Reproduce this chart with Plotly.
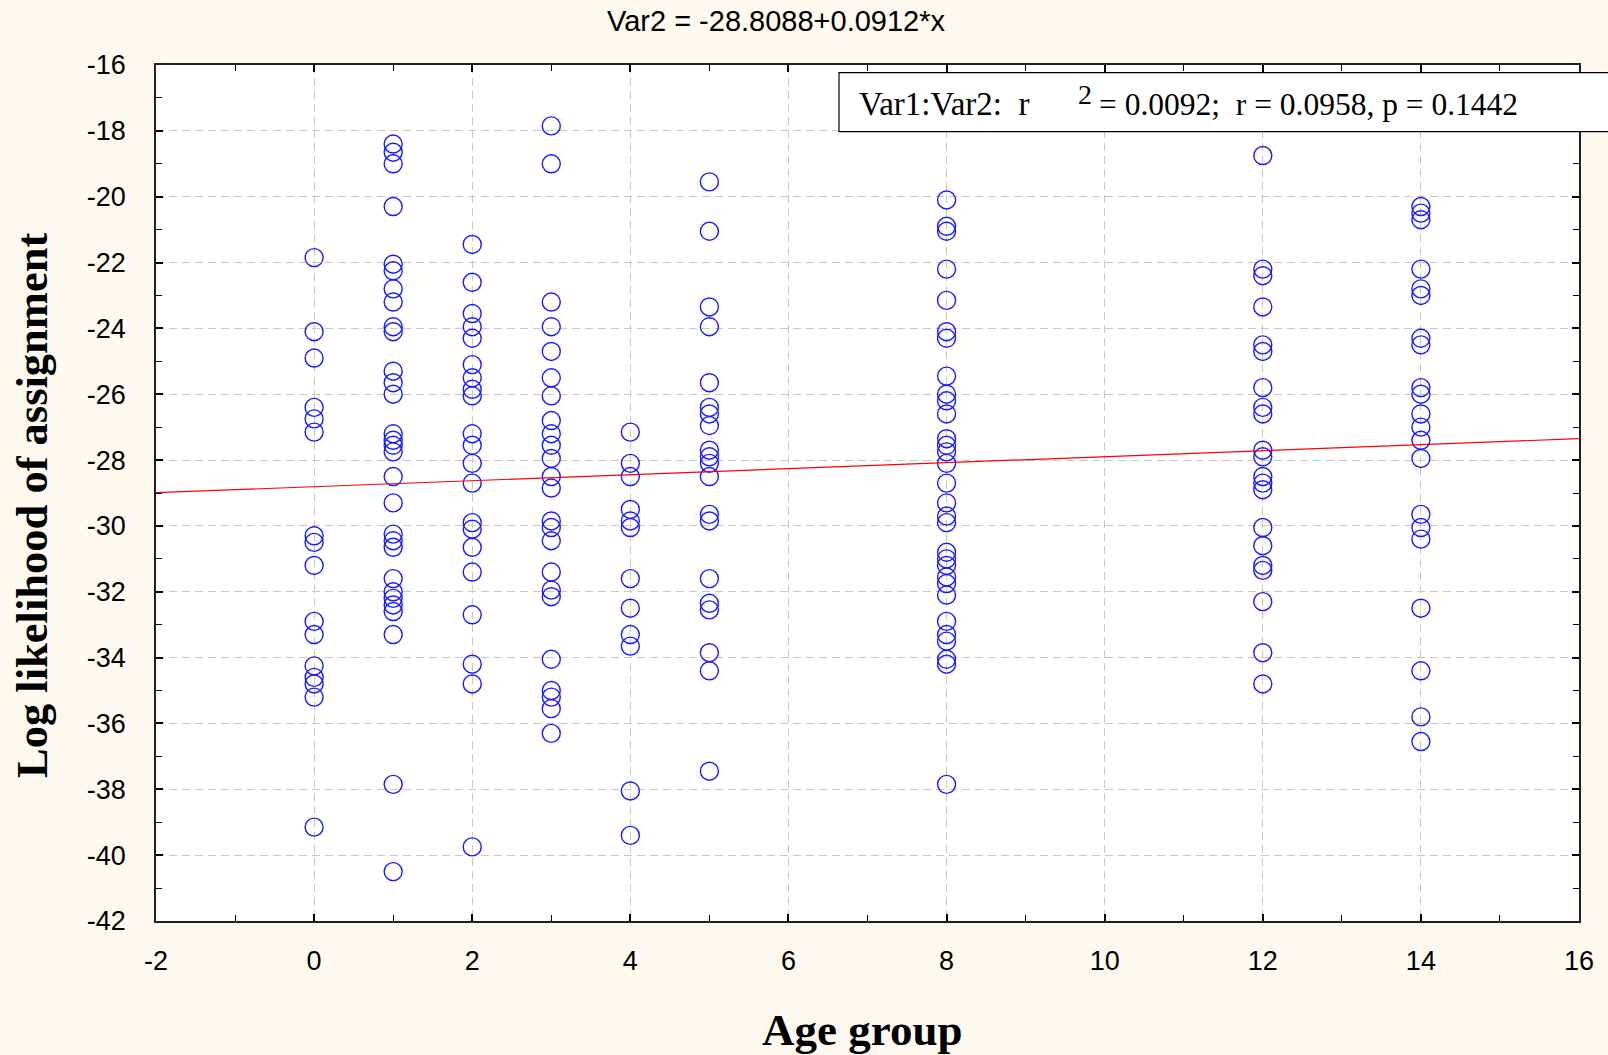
import numpy as np
import plotly.graph_objects as go

# ---- data ----
age_groups = [0, 1, 2, 3, 4, 5, 8, 12, 14]

ll_age0 = [-21.85, -24.1, -24.9, -26.4, -26.75, -27.15, -30.3, -30.5, -31.2, -32.9, -33.3,
           -34.25, -34.6, -34.8, -35.2, -39.15]
ll_age1 = [-18.4, -18.65, -19.0, -20.3, -22.05, -22.25, -22.8, -23.2, -23.95, -24.1, -25.3,
           -25.65, -26.0, -27.2, -27.4, -27.55, -27.75, -28.5, -29.3, -30.25, -30.45, -30.65,
           -31.6, -32.0, -32.2, -32.4, -32.6, -33.3, -37.85, -40.5]
ll_age2 = [-21.45, -22.6, -23.55, -23.95, -24.3, -25.1, -25.5, -25.85, -26.05, -27.2, -27.55,
           -28.1, -28.7, -29.9, -30.1, -30.65, -31.4, -32.7, -34.2, -34.8, -39.75]
ll_age3 = [-17.85, -19.0, -23.2, -23.95, -24.7, -25.5, -26.05, -26.8, -27.2, -27.55, -27.95,
           -28.5, -28.85, -29.85, -30.05, -30.45, -31.4, -31.95, -32.15, -34.05, -35.0, -35.2,
           -35.55, -36.3]
ll_age4 = [-27.15, -28.1, -28.5, -29.5, -29.85, -30.05, -31.6, -32.5, -33.3, -33.65, -38.05, -39.4]
ll_age5 = [-19.55, -21.05, -23.35, -23.95, -25.65, -26.4, -26.6, -26.95, -27.7, -27.9, -28.1,
           -28.5, -29.65, -29.85, -31.6, -32.35, -32.55, -33.85, -34.4, -37.45]
ll_age8 = [-20.1, -20.9, -21.05, -22.2, -23.15, -24.1, -24.3, -25.45, -26.0, -26.2, -26.6,
           -27.35, -27.55, -27.75, -28.1, -28.7, -29.3, -29.7, -29.9, -30.8, -31.0, -31.2,
           -31.55, -31.75, -32.1, -32.9, -33.3, -33.5, -34.05, -34.2, -37.85]
ll_age12 = [-18.75, -22.2, -22.4, -23.35, -24.5, -24.7, -25.8, -26.4, -26.6, -27.7, -27.9,
            -28.5, -28.7, -28.9, -30.05, -30.6, -31.2, -31.35, -32.3, -33.85, -34.8]
ll_age14 = [-20.3, -20.5, -20.7, -22.2, -22.8, -23.0, -24.3, -24.5, -25.8, -26.0, -26.6,
            -27.0, -27.4, -27.95, -29.65, -30.05, -30.4, -32.5, -34.4, -35.8, -36.55]

fit_intercept = -28.8088
fit_slope = 0.0912
x_range = [-2, 16]
y_range = [-42, -16]

x_tickvals = [-2, 0, 2, 4, 6, 8, 10, 12, 14, 16]
x_ticktext = ["-2", "0", "2", "4", "6", "8", "10", "12", "14", "16"]
y_tickvals = [-42, -40, -38, -36, -34, -32, -30, -28, -26, -24, -22, -20, -18, -16]
y_ticktext = ["-42", "-40", "-38", "-36", "-34", "-32", "-30", "-28", "-26", "-24",
              "-22", "-20", "-18", "-16"]

title_text = "Var2 = -28.8088+0.0912*x"
stats_left = "Var1:Var2:\u00a0\u00a0r"
stats_sup = "2"
stats_right = "= 0.0092;\u00a0\u00a0r = 0.0958, p = 0.1442"
x_title = "Age group"
y_title = "Log likelihood of assignment"

groups = [ll_age0, ll_age1, ll_age2, ll_age3, ll_age4, ll_age5, ll_age8, ll_age12, ll_age14]
xs = []
ys = []
for a, vals in zip(age_groups, groups):
    xs += [a] * len(vals)
    ys += vals

x_fit = np.array(x_range, dtype=float)
y_fit = fit_intercept + fit_slope * x_fit

# ---- figure ----
W, H = 1608, 1055
L, R, T, B = 156, 1579, 65, 921

fig = go.Figure()
fig.add_trace(go.Scatter(
    x=xs, y=ys, mode="markers",
    marker=dict(symbol="circle-open", size=18, color="#1a1aff", line=dict(width=1.4)),
    showlegend=False, cliponaxis=False))
fig.add_trace(go.Scatter(
    x=x_fit, y=y_fit, mode="lines",
    line=dict(color="#ff0000", width=1.2), showlegend=False))

def px2px(x):
    return (x - L) / (R - L)

def py2py(y):
    return (B - y) / (B - T)

axis_common = dict(
    showgrid=True, gridcolor="#c8c8c8", gridwidth=1, griddash="8px,5px",
    zeroline=False, showline=True, linecolor="#202020", linewidth=1.5,
    mirror="allticks", ticks="inside", ticklen=7, tickwidth=1.5, tickcolor="#000000",
    tickfont=dict(family="Liberation Sans, Arial", size=27, color="#000000"),
    minor=dict(dtick=1, ticks="inside", ticklen=6, tickwidth=1.2, tickcolor="#000000",
               showgrid=False),
)

fig.update_layout(
    width=W, height=H,
    margin=dict(l=L, r=W - R, t=T, b=H - B, pad=0),
    paper_bgcolor="#fef9ee", plot_bgcolor="#ffffff",
    title=dict(text=title_text, x=px2px(776), xref="paper", xanchor="center",
               y=1 - 21 / H, yref="container", yanchor="middle",
               font=dict(family="Liberation Sans, Arial", size=29, color="#000000")),
    xaxis=dict(range=x_range, tickmode="array", tickvals=x_tickvals, ticktext=x_ticktext,
               ticklabelstandoff=15, **axis_common),
    yaxis=dict(range=y_range, tickmode="array", tickvals=y_tickvals, ticktext=y_ticktext,
               ticklabelstandoff=23, **axis_common),
)
fig.update_xaxes(minor=dict(tickmode="linear", tick0=-2, dtick=1))
fig.update_yaxes(minor=dict(tickmode="linear", tick0=-42, dtick=1))

fig.add_shape(type="rect", xref="paper", yref="paper",
              x0=px2px(839), x1=px2px(1620), y0=py2py(131.7), y1=py2py(72.7),
              line=dict(color="#000000", width=1.2), fillcolor="#ffffff", layer="above")

serif = "Liberation Serif, Times New Roman, serif"
fig.add_annotation(text=stats_left, xref="paper", yref="paper", x=px2px(857), y=py2py(104),
                   xanchor="left", yanchor="middle", showarrow=False,
                   font=dict(family=serif, size=33, color="#000000"))
fig.add_annotation(text=stats_sup, xref="paper", yref="paper", x=px2px(1076), y=py2py(94),
                   xanchor="left", yanchor="middle", showarrow=False,
                   font=dict(family=serif, size=28, color="#000000"))
fig.add_annotation(text=stats_right, xref="paper", yref="paper", x=px2px(1097), y=py2py(104),
                   xanchor="left", yanchor="middle", showarrow=False,
                   font=dict(family=serif, size=31.5, color="#000000"))

fig.add_annotation(text="<b>" + y_title + "</b>", xref="paper", yref="paper",
                   x=px2px(32), y=py2py(506), xanchor="center", yanchor="middle",
                   textangle=-90, showarrow=False,
                   font=dict(family=serif, size=44.5, color="#000000"))
fig.add_annotation(text="<b>" + x_title + "</b>", xref="paper", yref="paper",
                   x=px2px(862), y=py2py(1030), xanchor="center", yanchor="middle",
                   showarrow=False, font=dict(family=serif, size=45, color="#000000"))

fig.write_html("out.html", config={"displayModeBar": False})

# remove the default page margin so the figure sits at the window's top-left corner
with open("out.html", "r", encoding="utf-8") as f:
    html = f.read()
html = html.replace("<head>", "<head><style>html,body{margin:0;padding:0;}</style>", 1)
with open("out.html", "w", encoding="utf-8") as f:
    f.write(html)
